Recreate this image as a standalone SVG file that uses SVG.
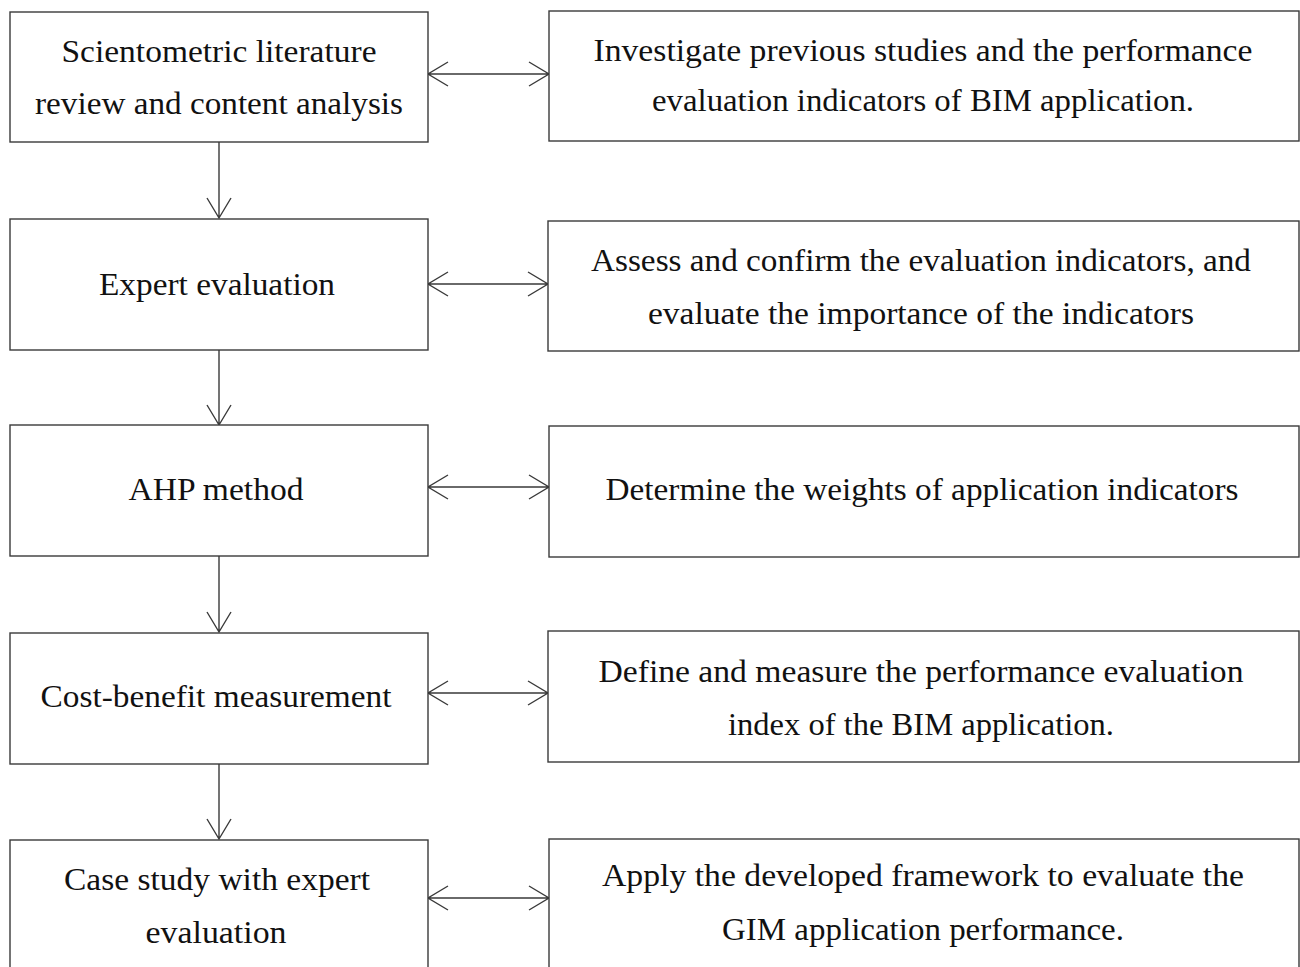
<svg xmlns="http://www.w3.org/2000/svg" width="1300" height="967" viewBox="0 0 1300 967">
<style>
.box{fill:#fff;stroke:#3a3a3a;stroke-width:1.4}
.ln{fill:none;stroke:#3a3a3a;stroke-width:1.4}
text{font-family:"Liberation Serif","Times New Roman",serif;font-size:31px;fill:#111;text-anchor:middle}
</style>
<rect width="1300" height="967" fill="#fff"/>
<g id="connectors">
<path class="ln" d="M219 142V218M207 198L219 218L231 198"/>
<path class="ln" d="M219 350V425M207 405L219 425L231 405"/>
<path class="ln" d="M219 556V632M207 612L219 632L231 612"/>
<path class="ln" d="M219 764V839M207 819L219 839L231 819"/>
<path class="ln" d="M428 74H549M448 62L428 74L448 86M529 62L549 74L529 86"/>
<path class="ln" d="M428 284H548M448 272L428 284L448 296M528 272L548 284L528 296"/>
<path class="ln" d="M428 487H549M448 475L428 487L448 499M529 475L549 487L529 499"/>
<path class="ln" d="M428 693H548M448 681L428 693L448 705M528 681L548 693L528 705"/>
<path class="ln" d="M428 898H549M448 886L428 898L448 910M529 886L549 898L529 910"/>
</g>
<g id="n1"><rect class="box" x="10" y="12" width="418" height="130"/>
<text x="219" y="62" textLength="315" lengthAdjust="spacingAndGlyphs">Scientometric literature</text>
<text x="219" y="114" textLength="368" lengthAdjust="spacingAndGlyphs">review and content analysis</text></g>
<g id="r1"><rect class="box" x="549" y="11" width="750" height="130"/>
<text x="923" y="61" textLength="659" lengthAdjust="spacingAndGlyphs">Investigate previous studies and the performance</text>
<text x="923" y="111" textLength="542" lengthAdjust="spacingAndGlyphs">evaluation indicators of BIM application.</text></g>
<g id="n2"><rect class="box" x="10" y="219" width="418" height="131"/>
<text x="217" y="295" textLength="236" lengthAdjust="spacingAndGlyphs">Expert evaluation</text></g>
<g id="r2"><rect class="box" x="548" y="221" width="751" height="130"/>
<text x="921" y="271" textLength="660" lengthAdjust="spacingAndGlyphs">Assess and confirm the evaluation indicators, and</text>
<text x="921" y="324" textLength="546" lengthAdjust="spacingAndGlyphs">evaluate the importance of the indicators</text></g>
<g id="n3"><rect class="box" x="10" y="425" width="418" height="131"/>
<text x="216" y="500" textLength="175" lengthAdjust="spacingAndGlyphs">AHP method</text></g>
<g id="r3"><rect class="box" x="549" y="426" width="750" height="131"/>
<text x="922" y="500" textLength="633" lengthAdjust="spacingAndGlyphs">Determine the weights of application indicators</text></g>
<g id="n4"><rect class="box" x="10" y="633" width="418" height="131"/>
<text x="216" y="707" textLength="351" lengthAdjust="spacingAndGlyphs">Cost-benefit measurement</text></g>
<g id="r4"><rect class="box" x="548" y="631" width="751" height="131"/>
<text x="921" y="682" textLength="645" lengthAdjust="spacingAndGlyphs">Define and measure the performance evaluation</text>
<text x="921" y="735" textLength="386" lengthAdjust="spacingAndGlyphs">index of the BIM application.</text></g>
<g id="n5"><rect class="box" x="10" y="840" width="418" height="140"/>
<text x="217" y="890" textLength="306" lengthAdjust="spacingAndGlyphs">Case study with expert</text>
<text x="216" y="943" textLength="141" lengthAdjust="spacingAndGlyphs">evaluation</text></g>
<g id="r5"><rect class="box" x="549" y="839" width="750" height="140"/>
<text x="923" y="886" textLength="642" lengthAdjust="spacingAndGlyphs">Apply the developed framework to evaluate the</text>
<text x="923" y="940" textLength="402" lengthAdjust="spacingAndGlyphs">GIM application performance.</text></g>
</svg>
